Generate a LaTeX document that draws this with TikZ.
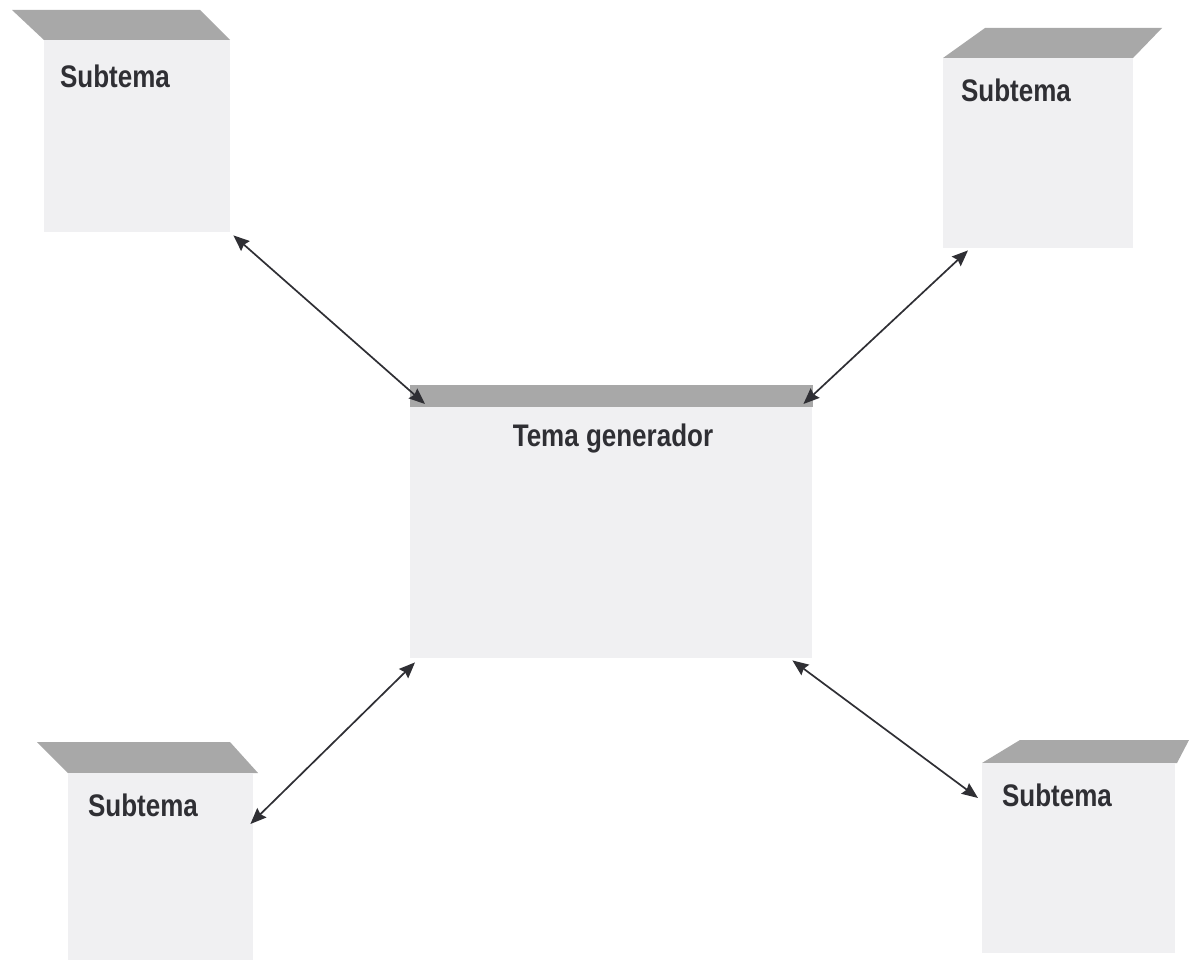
\documentclass[tikz,border=0pt]{standalone}
\usepackage{fontspec}
\setmainfont{Liberation Sans}
\usetikzlibrary{arrows.meta,calc}
\definecolor{facec}{HTML}{F0F0F2}
\definecolor{topc}{HTML}{A8A8A8}
\definecolor{inkc}{HTML}{2F2F34}
\newcommand{\stxt}[1]{\scalebox{1}[1.2]{#1}}
\tikzset{
  face/.style={fill=facec, draw=none, anchor=north west, inner sep=0pt},
  topband/.style={fill=topc, draw=none},
  lbl/.style={font=\fontsize{26}{30}\selectfont\bfseries, text=inkc, inner sep=0pt},
  link/.style={draw=inkc, line width=1.7pt, {Stealth[length=16pt,width=13pt,inset=2pt]}-{Stealth[length=16pt,width=13pt,inset=2pt]}}
}
\begin{document}
\begin{tikzpicture}[x=1pt,y=-1pt]
\useasboundingbox[fill=white] (0,0) rectangle (1189,960);
% top-left
\fill[topband] (12,10) -- (200,10) -- (230,40) -- (44,40) -- cycle;
\node[face, minimum width=186pt, minimum height=192pt] (tl) at (44,40) {};
\node[lbl] (tlt) at (115,76) {\stxt{Subtema}};
% top-right
\fill[topband] (985,28) -- (1162,28) -- (1133,58) -- (943,58) -- cycle;
\node[face, minimum width=190pt, minimum height=190pt] (tr) at (943,58) {};
\node[lbl] (trt) at (1016,90) {\stxt{Subtema}};
% center
\fill[topband] (410,385) rectangle (813,407);
\node[face, minimum width=402pt, minimum height=251pt] (c) at (410,407) {};
\node[lbl] (ct) at (613,438) {\stxt{Tema generador}};
% bottom-left
\fill[topband] (37,742) -- (230,742) -- (258,773) -- (68,773) -- cycle;
\node[face, minimum width=185pt, minimum height=187pt] (bl) at (68,773) {};
\node[lbl] (blt) at (143,805) {\stxt{Subtema}};
% bottom-right
\fill[topband] (1020,740) -- (1189,740) -- (1177,763) -- (982,763) -- cycle;
\node[face, minimum width=193pt, minimum height=190pt] (br) at (982,763) {};
\node[lbl] (brt) at (1057,795) {\stxt{Subtema}};
% connector ends
\coordinate (a1s) at ($(tl.south east)+(3,3)$);
\coordinate (a1e) at ($(c.north west)+(15,-3)$);
\coordinate (a2s) at ($(tr.south west)+(25,2)$);
\coordinate (a2e) at ($(c.north east)+(-9,-3)$);
\coordinate (a3s) at ($(c.south west)+(5,4)$);
\coordinate (a3e) at ($(bl.north east)+(-3,51)$);
\coordinate (a4s) at ($(c.south east)+(-20,2)$);
\coordinate (a4e) at ($(br.north west)+(-4,35)$);
\draw[link] (a1s) -- (a1e);
\draw[link] (a2s) -- (a2e);
\draw[link] (a3s) -- (a3e);
\draw[link] (a4s) -- (a4e);
\end{tikzpicture}
\end{document}
